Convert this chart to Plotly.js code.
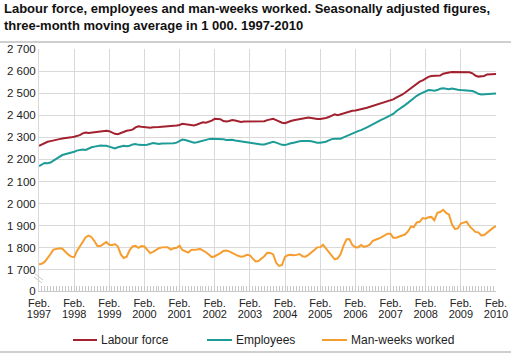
<!DOCTYPE html>
<html><head><meta charset="utf-8">
<script src="https://cdn.plot.ly/plotly-3.0.1.min.js"></script>
<style>html,body{margin:0;padding:0;background:#fff}#chart{width:511px;height:355px}</style>
</head><body><div id="chart"></div>
<script>
// ---- data (thousands), monthly Feb 1997 .. Feb 2010 ----
const startYear = 1997, startMonth = 2;
const tickYears = [1997,1998,1999,2000,2001,2002,2003,2004,2005,2006,2007,2008,2009,2010];
const seriesNames = ['Labour force', 'Employees', 'Man-weeks worked'];
const yTickValues = [0,1700,1800,1900,2000,2100,2200,2300,2400,2500,2600,2700];
const titleLines = ['Labour force, employees and man-weeks worked. Seasonally adjusted figures,',
                    'three-month moving average in 1 000. 1997-2010'];

const labourForce = [
 2262,2268,2275,2280,2283,2287,2290,2292,2295,2296,2298,2300,
 2303,2306,2310,2318,2322,2320,2322,2325,2326,2327,2328,2330,
 2328,2322,2316,2314,2320,2326,2330,2332,2335,2345,2350,2348,
 2346,2345,2344,2346,2348,2347,2348,2350,2352,2352,2353,2354,
 2356,2362,2360,2358,2356,2354,2358,2364,2368,2366,2370,2376,
 2384,2384,2382,2374,2372,2374,2378,2376,2372,2370,2372,2372,
 2372,2373,2372,2371,2370,2373,2378,2382,2384,2378,2372,2366,
 2364,2370,2374,2377,2380,2382,2384,2388,2390,2388,2385,2383,
 2383,2384,2388,2392,2398,2404,2400,2404,2410,2415,2418,2420,
 2422,2424,2428,2431,2434,2438,2442,2446,2450,2454,2458,2462,
 2466,2472,2480,2486,2494,2502,2512,2526,2534,2545,2552,2558,
 2568,2574,2578,2578,2578,2580,2588,2592,2594,2596,2596,2595,
 2594,2595,2596,2595,2590,2580,2575,2577,2578,2585,2585,2586,
 2587];

const employees = [
 2170,2178,2184,2183,2186,2195,2205,2212,2220,2223,2227,2231,
 2235,2240,2244,2245,2243,2250,2255,2258,2262,2263,2262,2262,
 2258,2254,2250,2255,2260,2262,2260,2262,2268,2270,2266,2264,
 2265,2267,2272,2274,2272,2270,2272,2272,2273,2272,2273,2276,
 2282,2290,2288,2284,2280,2276,2278,2282,2284,2288,2292,2294,
 2294,2293,2292,2291,2288,2290,2289,2286,2284,2281,2278,2276,
 2274,2273,2272,2270,2268,2268,2272,2276,2280,2276,2270,2266,
 2265,2270,2273,2276,2280,2282,2283,2285,2284,2282,2278,2276,
 2276,2278,2280,2286,2292,2294,2295,2294,2300,2306,2312,2320,
 2324,2328,2333,2338,2345,2352,2360,2366,2372,2380,2386,2392,
 2398,2406,2418,2426,2436,2446,2456,2468,2478,2488,2496,2502,
 2508,2514,2513,2511,2514,2520,2522,2520,2518,2521,2520,2516,
 2514,2513,2514,2513,2510,2505,2497,2494,2495,2496,2499,2498,
 2498];

const manWeeks = [
 1726,1728,1736,1752,1772,1792,1796,1798,1796,1782,1770,1760,
 1758,1785,1805,1828,1848,1855,1848,1830,1808,1808,1816,1826,
 1814,1812,1817,1806,1770,1754,1760,1790,1806,1809,1800,1808,
 1806,1792,1776,1782,1792,1798,1802,1803,1803,1792,1798,1800,
 1810,1790,1784,1778,1790,1790,1792,1795,1788,1780,1770,1758,
 1762,1768,1776,1786,1788,1784,1776,1770,1764,1760,1762,1768,
 1766,1752,1738,1740,1750,1762,1778,1777,1770,1732,1718,1722,
 1760,1766,1768,1766,1768,1772,1762,1760,1768,1778,1790,1802,
 1803,1814,1796,1784,1765,1748,1752,1772,1810,1838,1840,1812,
 1803,1802,1813,1804,1808,1814,1832,1836,1842,1848,1856,1864,
 1864,1846,1846,1852,1856,1860,1874,1896,1894,1915,1918,1935,
 1932,1938,1940,1924,1958,1962,1972,1958,1950,1905,1886,1888,
 1910,1914,1918,1898,1884,1872,1870,1856,1858,1870,1880,1890,
 1898];

// ---- styling ----
const colors = ['#a3202f', '#1d9c97', '#f59d2e'];
const FONT = 'Arial, "Liberation Sans", sans-serif';
const TXT = '#222';
const GRID = '#d9d9d9';
const W = 511, H = 355, ML = 39, MR = 15, MT = 49, MB = 64;
const AXIS_BOTTOM = 1604.5;   // value shown as "0" (broken axis)

const months = labourForce.map((_, i) => {
  const t = (startMonth - 1) + i;
  const y = startYear + Math.floor(t / 12);
  const m = t % 12 + 1;
  return y + '-' + String(m).padStart(2, '0') + '-01';
});
const fmt = v => v >= 1000 ? Math.floor(v / 1000) + ' ' + String(v % 1000).padStart(3, '0') : String(v);

const series = [labourForce, employees, manWeeks];
const traces = series.map((s, k) => ({
  type: 'scatter', mode: 'lines', x: months, y: s, name: seriesNames[k],
  line: {color: colors[k], width: 2}, hoverinfo: 'skip', showlegend: false
}));
traces.push({type: 'scatter', x: [], y: [], xaxis: 'x2', yaxis: 'y', showlegend: false, hoverinfo: 'skip'});

const PW = W - ML - MR, PH = H - MT - MB;
const px = x => (x - ML) / PW;
const py = y => (MT + PH - y) / PH;

const shapes = [
  // separators
  {type: 'line', xref: 'paper', yref: 'paper', x0: px(0), x1: px(W), y0: py(42), y1: py(42), line: {color: '#cfcfcf', width: 2}},
  {type: 'line', xref: 'paper', yref: 'paper', x0: px(0), x1: px(W), y0: py(352), y1: py(352), line: {color: '#cfcfcf', width: 2}},
  // axis break marks
  {type: 'line', xref: 'paper', yref: 'paper', x0: px(34), x1: px(43), y0: py(273), y1: py(280), line: {color: '#c8c8c8', width: 1}},
  {type: 'line', xref: 'paper', yref: 'paper', x0: px(34), x1: px(42), y0: py(277), y1: py(283), line: {color: '#c8c8c8', width: 1}}
];
const annotations = [];
// title lines
[8, 26].forEach((yc, k) => annotations.push({xref: 'paper', yref: 'paper', x: px(2), y: py(yc), xanchor: 'left', yanchor: 'middle',
  text: '<b>' + titleLines[k] + '</b>', showarrow: false, font: {family: FONT, size: 13, color: '#111'}}));
// legend
const legendPos = [[73, 97, 99], [207, 232, 234], [322, 347, 349]];
legendPos.forEach((p, k) => {
  shapes.push({type: 'line', xref: 'paper', yref: 'paper', x0: px(p[0]), x1: px(p[1]), y0: py(340), y1: py(340), line: {color: colors[k], width: 2}});
  annotations.push({xref: 'paper', yref: 'paper', x: px(p[2]), y: py(340), xanchor: 'left', yanchor: 'middle',
    text: seriesNames[k], showarrow: false, font: {family: FONT, size: 12, color: TXT}});
});

const xRange = [months[0], months[months.length - 1]];
const xTickVals = tickYears.map(y => y + '-02-01');

const layout = {
  width: W, height: H, margin: {l: ML, r: MR, t: MT, b: MB},
  paper_bgcolor: '#fff', plot_bgcolor: '#fff',
  font: {family: FONT, color: TXT},
  xaxis: {type: 'date', range: xRange, tickvals: xTickVals, ticktext: tickYears.map(() => 'Feb.'),
    showgrid: true, gridcolor: GRID, gridwidth: 1, showline: true, linecolor: '#c8c8c8', linewidth: 1,
    ticks: 'inside', ticklen: 5, tickcolor: '#c8c8c8', ticklabelstandoff: 2,
    minor: {dtick: 'M1', ticks: 'inside', ticklen: 5, tickcolor: '#c8c8c8', showgrid: false},
    tickfont: {size: 11, color: TXT}, zeroline: false, fixedrange: true},
  xaxis2: {type: 'date', overlaying: 'x', anchor: 'y', side: 'bottom', range: xRange, tickvals: xTickVals,
    ticktext: tickYears.map(String), showgrid: false, showline: false, ticks: '', zeroline: false,
    ticklabelstandoff: 15, tickfont: {size: 11, color: TXT}, fixedrange: true},
  yaxis: {range: [AXIS_BOTTOM, 2700], tickvals: yTickValues.map(v => v === 0 ? AXIS_BOTTOM : v),
    ticktext: yTickValues.map(fmt), showgrid: true, gridcolor: GRID, gridwidth: 1,
    showline: true, linecolor: GRID, zeroline: false, ticks: '', tickfont: {size: 11.5, color: TXT}, fixedrange: true},
  shapes: shapes, annotations: annotations, showlegend: false
};

Plotly.newPlot('chart', traces, layout, {staticPlot: true, displayModeBar: false});
</script>
</body></html>
